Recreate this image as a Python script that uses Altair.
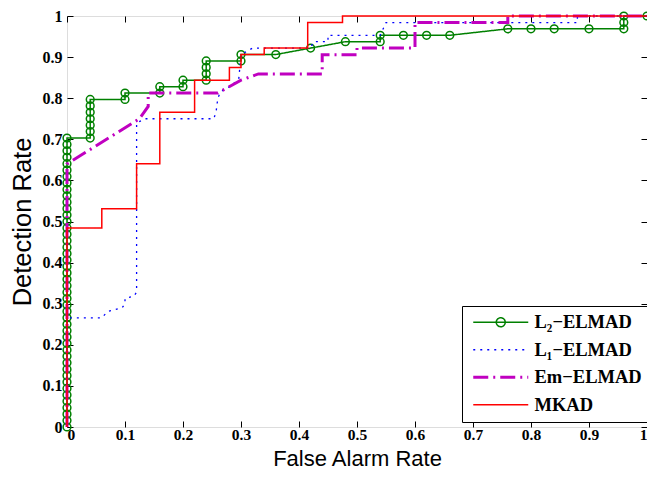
import altair as alt
import pandas as pd

# ---------------- data ----------------
NAMES = ["L₂−ELMAD", "L₁−ELMAD", "Em−ELMAD", "MKAD"]
COLORS = ["#008000", "#0000ff", "#c000c0", "#ff0000"]
DASHES = [[1, 0], [2, 5], [15, 5, 2, 5], [1, 0]]
WIDTHS = [1.5, 1.3, 3, 1.5]
TICKS = [0, 0.1, 0.2, 0.3, 0.4, 0.5, 0.6, 0.7, 0.8, 0.9, 1]

L2_X = [0, 0, 0, 0, 0, 0, 0, 0, 0, 0,
        0, 0, 0, 0, 0, 0, 0, 0, 0, 0,
        0, 0, 0, 0, 0, 0, 0, 0, 0, 0,
        0, 0, 0, 0, 0, 0, 0, 0, 0, 0,
        0, 0, 0, 0, 0, 0,
        0.04, 0.04, 0.04, 0.04, 0.04, 0.04, 0.04,
        0.10, 0.10, 0.16, 0.16, 0.20, 0.20,
        0.24, 0.24, 0.24, 0.24, 0.30, 0.30,
        0.36, 0.42, 0.48, 0.54, 0.54, 0.58, 0.62, 0.66,
        0.76, 0.80, 0.84, 0.90, 0.96, 0.96, 0.96, 1.0]
L2_Y = [0.0000, 0.0156, 0.0313, 0.0469, 0.0625, 0.0781, 0.0938, 0.1094, 0.1250, 0.1406,
        0.1563, 0.1719, 0.1875, 0.2031, 0.2188, 0.2344, 0.2500, 0.2656, 0.2813, 0.2969,
        0.3125, 0.3281, 0.3438, 0.3594, 0.3750, 0.3906, 0.4063, 0.4219, 0.4375, 0.4531,
        0.4688, 0.4844, 0.5000, 0.5156, 0.5313, 0.5469, 0.5625, 0.5781, 0.5938, 0.6094,
        0.6250, 0.6406, 0.6563, 0.6719, 0.6875, 0.7031,
        0.7031, 0.7188, 0.7344, 0.7500, 0.7656, 0.7813, 0.7969,
        0.7969, 0.8125, 0.8125, 0.8281, 0.8281, 0.8438,
        0.8438, 0.8594, 0.8750, 0.8906, 0.8906, 0.9063,
        0.9063, 0.9219, 0.9375, 0.9375, 0.9531, 0.9531, 0.9531, 0.9531,
        0.9688, 0.9688, 0.9688, 0.9688, 0.9688, 0.9844, 1.0, 1.0]

L1_X = [0, 0, 0.06, 0.07, 0.095, 0.10, 0.10, 0.115, 0.12, 0.12, 0.135, 0.253,
        0.257, 0.26, 0.265, 0.28, 0.296, 0.298, 0.30, 0.32, 0.42, 0.425, 0.45,
        0.45, 0.54, 0.55, 0.88, 0.88, 1.0]
L1_Y = [0, 0.2656, 0.2656, 0.281, 0.29, 0.30, 0.313, 0.318, 0.328, 0.74, 0.75, 0.75,
        0.766, 0.80, 0.816, 0.828, 0.845, 0.875, 0.906, 0.922, 0.922, 0.9375, 0.9375,
        0.953, 0.953, 0.984, 0.984, 1.0, 1.0]

EM_X = [0, 0, 0.125, 0.14, 0.14, 0.26, 0.30, 0.33, 0.44, 0.44, 0.50, 0.50,
        0.60, 0.60, 0.76, 0.76, 1.0]
EM_Y = [0, 0.64, 0.75, 0.78, 0.8125, 0.8125, 0.844, 0.859, 0.859, 0.906, 0.906,
        0.922, 0.922, 0.984, 0.984, 1.0, 1.0]

MK_X = [0, 0, 0.06, 0.06, 0.12, 0.12, 0.16, 0.16, 0.22, 0.22, 0.28, 0.28, 0.30,
        0.30, 0.34, 0.34, 0.415, 0.415, 0.475, 0.475, 1.0]
MK_Y = [0, 0.4844, 0.4844, 0.5313, 0.5313, 0.6406, 0.6406, 0.7656, 0.7656, 0.8438,
        0.8438, 0.875, 0.875, 0.9063, 0.9063, 0.9219, 0.9219, 0.9844, 0.9844, 1.0, 1.0]


def frame(xs, ys, name):
    return pd.DataFrame({"x": xs, "y": ys, "series": name, "i": list(range(len(xs)))})


d_l2 = frame(L2_X, L2_Y, NAMES[0])
d_l1 = frame(L1_X, L1_Y, NAMES[1])
d_em = frame(EM_X, EM_Y, NAMES[2])
d_mk = frame(MK_X, MK_Y, NAMES[3])
d_empty = pd.DataFrame({"x": [], "y": [], "series": []})

# ---------------- styling ----------------
SERIF = "Liberation Serif"
SANS = "Liberation Sans"

LINE_PATH = "M-1.25,0H12.5"
CIRCLE_LINE_PATH = "M-1.25,0H12.5M6.75,0A1.125,1.125 0 1,1 4.5,0A1.125,1.125 0 1,1 6.75,0"
SHAPES = [CIRCLE_LINE_PATH, LINE_PATH, LINE_PATH, LINE_PATH]

xscale = alt.Scale(domain=[0, 1], nice=False, zero=False)
yscale = alt.Scale(domain=[0, 1], nice=False, zero=False)

ax_x_main = alt.Axis(values=TICKS, format="~g", ticks=False, domain=False, grid=False,
                     labelFont=SERIF, labelFontWeight="bold", labelFontSize=15.5,
                     labelColor="black", labelPadding=0, title="False Alarm Rate",
                     titleFont=SANS, titleFontWeight="normal", titleFontSize=22,
                     titleColor="black", titleBaseline="alphabetic", titleY=38,
                     orient="bottom")
ax_y_main = alt.Axis(values=TICKS, format="~g", ticks=False, domain=False, grid=False,
                     labelFont=SERIF, labelFontWeight="bold", labelFontSize=16,
                     labelColor="black", labelPadding=5, title="Detection Rate",
                     titleFont=SANS, titleFontWeight="normal", titleFontSize=25.5,
                     titleColor="black", titlePadding=7, orient="left")


def tick_axis(orient):
    return alt.Axis(values=TICKS, orient=orient, offset=-6, tickSize=6, tickColor="black",
                    tickWidth=1, labels=False, domain=False, grid=False, title=None)


legend = alt.Legend(
    title=None, orient="none", legendX=395, legendY=290,
    strokeColor="black", fillColor="white", padding=7, rowPadding=8.5,
    labelFont=SERIF, labelFontWeight="bold", labelFontSize=18.5, labelColor="black",
    symbolSize=64, labelOffset=47,
)

color_scale = alt.Scale(domain=NAMES, range=COLORS)
dash_scale = alt.Scale(domain=NAMES, range=DASHES)
width_scale = alt.Scale(type="ordinal", domain=NAMES, range=WIDTHS)
shape_scale = alt.Scale(domain=NAMES, range=SHAPES)


def enc_common():
    return dict(
        color=alt.Color("series:N", scale=color_scale, legend=legend),
        strokeDash=alt.StrokeDash("series:N", scale=dash_scale, legend=legend),
        strokeWidth=alt.StrokeWidth("series:N", scale=width_scale, legend=legend),
    )


def line_layer(df, xaxis, yaxis):
    return alt.Chart(df).mark_line().encode(
        x=alt.X("x:Q", scale=xscale, axis=xaxis),
        y=alt.Y("y:Q", scale=yscale, axis=yaxis),
        order=alt.Order("i:Q"),
        **enc_common(),
    )


l2_line = line_layer(d_l2, ax_x_main, ax_y_main)
l2_pts = alt.Chart(d_l2).mark_point(shape="circle", filled=False, size=60,
                                    strokeWidth=1.5, opacity=1).encode(
    x=alt.X("x:Q", scale=xscale, axis=tick_axis("bottom")),
    y=alt.Y("y:Q", scale=yscale, axis=tick_axis("left")),
    color=alt.value(COLORS[0]),
)
l1_line = line_layer(d_l1, tick_axis("top"), tick_axis("right"))
em_line = line_layer(d_em, None, None)
mk_line = line_layer(d_mk, None, None)

# legend-only layer (no rows) so the legend symbols get per-series shapes
legend_layer = alt.Chart(d_empty).mark_point(filled=False, opacity=1).encode(
    x=alt.X("x:Q", scale=xscale, axis=None),
    y=alt.Y("y:Q", scale=yscale, axis=None),
    shape=alt.Shape("series:N", scale=shape_scale, legend=legend),
    **enc_common(),
)

chart = alt.layer(legend_layer, l2_line, l2_pts, l1_line, em_line, mk_line).resolve_axis(
    x="independent", y="independent"
).properties(
    width=580, height=411,
    autosize=alt.AutoSizeParams(type="none"),
    padding={"left": 59, "top": 8, "right": 0, "bottom": 43},
).configure_view(stroke="black", strokeWidth=1.2).configure(background="white")

chart.save("out.html", embed_options={"renderer": "svg", "actions": False})
